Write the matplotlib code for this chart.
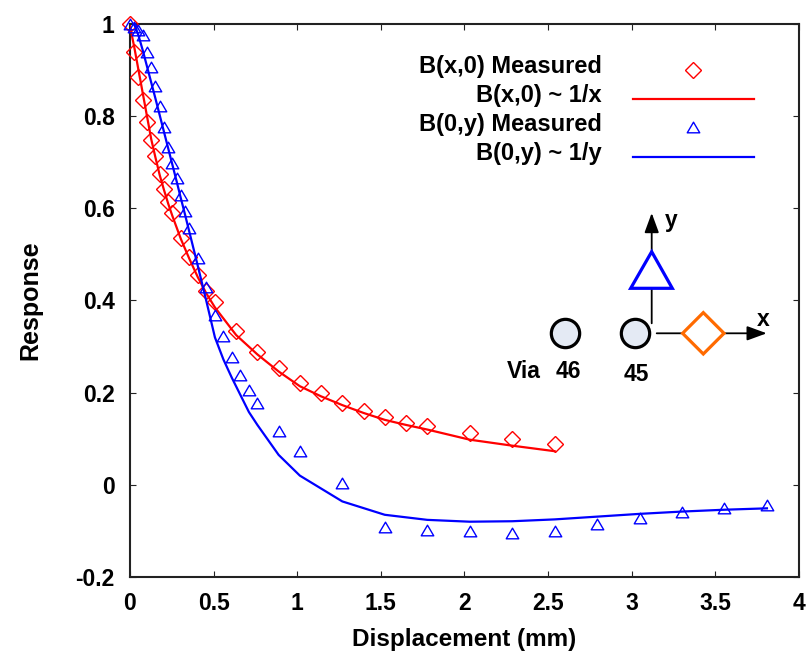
import matplotlib
matplotlib.use("Agg")
import matplotlib.pyplot as plt
from matplotlib.patches import Polygon
from matplotlib.lines import Line2D
from matplotlib.path import Path
from matplotlib.ticker import FuncFormatter

plt.rcParams['font.family'] = ['Liberation Sans', 'DejaVu Sans']
plt.rcParams['font.weight'] = 'bold'

# B(x,0): measured along x and the 1/x model
bx_x = [0.0, 0.0254, 0.0508, 0.0762, 0.1016, 0.127, 0.1524, 0.1778, 0.2032, 0.2286,
        0.254, 0.3048, 0.3556, 0.4064, 0.4572, 0.508, 0.635, 0.762, 0.889, 1.016,
        1.143, 1.27, 1.397, 1.524, 1.651, 1.778, 2.032, 2.286, 2.54]
bx_meas = [1.0, 0.94, 0.884, 0.834, 0.788, 0.749, 0.713, 0.675, 0.643, 0.613,
           0.589, 0.536, 0.495, 0.456, 0.42, 0.396, 0.334, 0.289, 0.253, 0.222,
           0.199, 0.177, 0.16, 0.148, 0.135, 0.127, 0.112, 0.099, 0.089]
bx_fit = [0.995, 0.95, 0.90, 0.85, 0.80, 0.75, 0.71, 0.672, 0.64, 0.61,
          0.583, 0.533, 0.49, 0.45, 0.415, 0.385, 0.325, 0.283, 0.246, 0.214,
          0.192, 0.173, 0.156, 0.141, 0.130, 0.120, 0.098, 0.085, 0.073]

# B(0,y): measured along y and the 1/y model
by_x = [0.0, 0.0254, 0.0508, 0.0762, 0.1016, 0.127, 0.1524, 0.1778, 0.2032, 0.2286,
        0.254, 0.2794, 0.3048, 0.3302, 0.3556, 0.4064, 0.4572, 0.508, 0.5588, 0.6096,
        0.6604, 0.7112, 0.762, 0.889, 1.016, 1.27, 1.524, 1.778, 2.032, 2.286,
        2.54, 2.794, 3.048, 3.302, 3.556, 3.81]
by_meas = [1.0, 0.994, 0.987, 0.976, 0.94, 0.906, 0.866, 0.823, 0.776, 0.734,
           0.698, 0.665, 0.629, 0.594, 0.557, 0.492, 0.43, 0.369, 0.322, 0.278,
           0.239, 0.206, 0.177, 0.117, 0.073, 0.003, -0.091, -0.098, -0.101, -0.104,
           -0.101, -0.084, -0.071, -0.059, -0.051, -0.043]
byfit_x = by_x[1:]
by_fit = [1.0, 0.975, 0.943, 0.908, 0.873, 0.838, 0.802, 0.766, 0.73,
          0.694, 0.658, 0.621, 0.585, 0.548, 0.474, 0.398, 0.32, 0.272, 0.232,
          0.195, 0.158, 0.130, 0.065, 0.020, -0.036, -0.065, -0.076, -0.080, -0.079,
          -0.075, -0.069, -0.063, -0.058, -0.054, -0.051]

labels = ["B(x,0) Measured", "B(x,0) ~ 1/x", "B(0,y) Measured", "B(0,y) ~ 1/y"]
x_ticks = [0, 0.5, 1, 1.5, 2, 2.5, 3, 3.5, 4]
y_ticks = [-0.2, 0, 0.2, 0.4, 0.6, 0.8, 1]

RED = '#ff0000'
BLUE = '#0000ff'
ORANGE = '#ff6a00'
# open triangle, a little flatter than it is wide
TRI = Path([(0, 0.85), (-1, -0.85), (1, -0.85), (0, 0.85)],
           [Path.MOVETO, Path.LINETO, Path.LINETO, Path.CLOSEPOLY])

W, H = 812, 664
L, R, T, B = 130, 798.7, 24, 577
fig = plt.figure(figsize=(W / 100, H / 100), dpi=100)
ax = fig.add_axes([L / W, (H - B) / H, (R - L) / W, (B - T) / H])


def px(x, y):
    """Pixel position inside the figure -> axes fraction."""
    return ((x - L) / (R - L), (B - y) / (B - T))


ax.plot(bx_x, bx_meas, linestyle='none', marker='D', ms=8.5, mfc='none',
        mec=RED, mew=1.0, clip_on=False, zorder=3)
ax.plot(bx_x, bx_fit, color=RED, lw=1.6, zorder=3)
ax.plot(by_x, by_meas, linestyle='none', marker=TRI, ms=9, mfc='none',
        mec=BLUE, mew=1.0, clip_on=False, zorder=4)
ax.plot(byfit_x, by_fit, color=BLUE, lw=1.6, zorder=4)

ax.set_xlim(0, 4)
ax.set_ylim(-0.2, 1)
ax.set_xticks(x_ticks)
ax.set_yticks(y_ticks)
fmt = FuncFormatter(lambda v, p: '%g' % round(v, 2))
ax.xaxis.set_major_formatter(fmt)
ax.yaxis.set_major_formatter(fmt)
ax.tick_params(direction='in', length=4.3, width=0.8, color='#222222',
               top=True, right=True, labelsize=16.5, pad=11)
for s in ax.spines.values():
    s.set_linewidth(1.5)
    s.set_color('#222222')
ax.set_xlabel("Displacement (mm)", fontsize=17.5, fontweight='bold', labelpad=9)
ax.set_ylabel("Response", fontsize=18, fontweight='bold', labelpad=24)

# key, labels right-aligned with their symbols to the right
rows = [70, 98.7, 127.3, 156.7]
for i, (lab, yy) in enumerate(zip(labels, rows)):
    tx, ty = px(601.7, yy - 3)
    ax.text(tx, ty, lab, transform=ax.transAxes, ha='right', va='center',
            fontsize=17, fontweight='bold')
    if i % 2 == 0:
        mx, my = px(693.3, yy)
        ax.add_line(Line2D([mx], [my], transform=ax.transAxes, linestyle='none',
                           marker='D' if i == 0 else TRI, ms=8.5 if i == 0 else 9,
                           mfc='none', mec=RED if i == 0 else BLUE, mew=1.0))
    else:
        x0, y0 = px(632.7, yy)
        x1, _ = px(754.3, yy)
        ax.add_line(Line2D([x0, x1], [y0, y0], transform=ax.transAxes,
                           color=RED if i == 1 else BLUE, lw=1.6))

# via sketch
for cx in (565, 635):
    vx, vy = px(cx, 333.3)
    ax.add_line(Line2D([vx], [vy], transform=ax.transAxes, linestyle='none',
                       marker='o', ms=20.4, mfc='#e4eaf4', mec='black', mew=2.3,
                       zorder=6))
arrow = dict(arrowstyle='-|>,head_length=0.6,head_width=0.22', lw=1.3,
             color='black', shrinkA=0, shrinkB=0, mutation_scale=20)
ax.annotate('', xy=px(651.7, 213), xytext=px(651.7, 323.3),
            xycoords='axes fraction', textcoords='axes fraction',
            arrowprops=arrow, zorder=6)
ax.annotate('', xy=px(766.7, 333.3), xytext=px(656.7, 333.3),
            xycoords='axes fraction', textcoords='axes fraction',
            arrowprops=arrow, zorder=6)
tri = Polygon([px(651.7, 251.7), px(630.7, 288.3), px(672.3, 288.3)],
              closed=True, transform=ax.transAxes, facecolor='white',
              edgecolor=BLUE, lw=2.3, zorder=7, joinstyle='miter')
ax.add_patch(tri)
dia = Polygon([px(703.3, 312.6), px(724.0, 333.3), px(703.3, 354.0), px(682.6, 333.3)],
              closed=True, transform=ax.transAxes, facecolor='white',
              edgecolor=ORANGE, lw=2.3, zorder=7, joinstyle='miter')
ax.add_patch(dia)
for s, (x, y) in [("y", (671.7, 220)), ("x", (763.3, 320)),
                  ("Via", (523.3, 372)), ("46", (568.3, 372)), ("45", (636.7, 374.5))]:
    tx, ty = px(x, y)
    ax.text(tx, ty, s, transform=ax.transAxes, ha='center', va='center',
            fontsize=16.5, fontweight='bold', zorder=8)

fig.savefig("out.png", dpi=100)
